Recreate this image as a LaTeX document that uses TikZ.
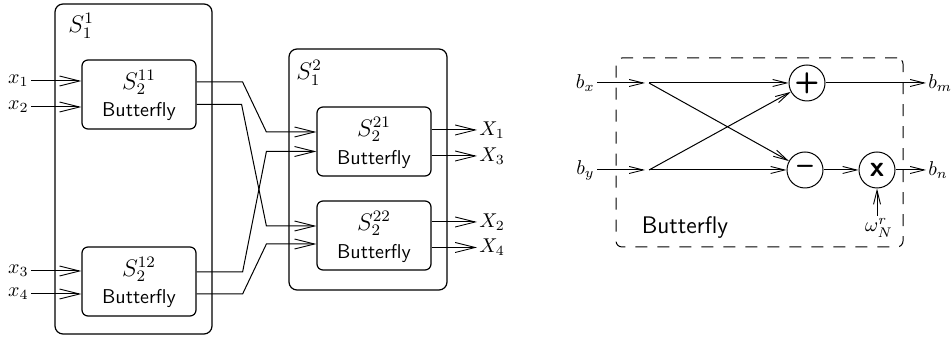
\documentclass[tikz,border=0pt]{standalone}
\usetikzlibrary{arrows.meta,calc}
\begin{document}
\begin{tikzpicture}[x=0.5pt,y=-0.5pt,
  outerbox/.style={draw,line width=0.6pt,rounded corners=4pt,inner sep=0pt},
  bfbox/.style={draw,line width=0.6pt,rounded corners=3pt,minimum width=57pt,minimum height=34.5pt,inner sep=0pt},
  boxtext/.style={inner sep=0pt},
  bigarr/.style={line width=0.5pt,-{Straight Barb[length=10pt,width=5pt,line width=0.45pt]}},
  smallarr/.style={line width=0.5pt,-{Straight Barb[length=7pt,width=3.5pt,line width=0.45pt]}},
  op/.style={draw,circle,line width=0.5pt,minimum size=18pt,inner sep=0pt,font=\Large\sffamily\bfseries},
  dashbox/.style={draw,line width=0.5pt,dash pattern=on 6pt off 5pt,rounded corners=3pt,minimum width=143.5pt,minimum height=94.5pt,inner sep=0pt},
  lbl/.style={inner sep=1pt}
]
\useasboundingbox (0,0) rectangle (952,340);

% ---------- first stage ----------
\node[outerbox,minimum width=78.5pt,minimum height=165pt] (st1) at (133.5,169) {};
\node[lbl,anchor=north west] (st1lbl) at (66,11) {\large$S_1^1$};

\node[bfbox] (b11) at (139,94.5) {};
\node[boxtext] (b11s) at ($(b11)+(0,-12)$) {\large$S_2^{11}$};
\node[boxtext] (b11t) at ($(b11)+(0,17.5)$) {\sffamily Butterfly};

\node[bfbox] (b12) at (139,281.5) {};
\node[boxtext] (b12s) at ($(b12)+(0,-12)$) {\large$S_2^{12}$};
\node[boxtext] (b12t) at ($(b12)+(0,17.5)$) {\sffamily Butterfly};

% ---------- second stage ----------
\node[outerbox,minimum width=79pt,minimum height=120.5pt] (st2) at (368,169.5) {};
\node[lbl,anchor=north west] (st2lbl) at (294,58) {\large$S_1^2$};

\node[bfbox] (b21) at (374,141.5) {};
\node[boxtext] (b21s) at ($(b21)+(0,-12)$) {\large$S_2^{21}$};
\node[boxtext] (b21t) at ($(b21)+(0,18)$) {\sffamily Butterfly};

\node[bfbox] (b22) at (374,235.5) {};
\node[boxtext] (b22s) at ($(b22)+(0,-12)$) {\large$S_2^{22}$};
\node[boxtext] (b22t) at ($(b22)+(0,18)$) {\sffamily Butterfly};

% ---------- inputs ----------
\node[lbl,anchor=east] (x1) at (31,81) {$x_1$};
\node[lbl,anchor=east] (x2) at (31,107) {$x_2$};
\node[lbl,anchor=east] (x3) at (31,271) {$x_3$};
\node[lbl,anchor=east] (x4) at (31,294) {$x_4$};
\draw[bigarr] (x1.east) -- (x1.east -| b11.west);
\draw[bigarr] (x2.east) -- (x2.east -| b11.west);
\draw[bigarr] (x3.east) -- (x3.east -| b12.west);
\draw[bigarr] (x4.east) -- (x4.east -| b12.west);

% ---------- interconnect ----------
\draw[bigarr] ($(b11.east)+(0,-12.5)$) -- ++(46,0)
  -- ($(b21.west)+(-50,-9.5)$) -- ($(b21.west)+(0,-9.5)$);
\draw[bigarr] ($(b11.east)+(0,10)$) -- ++(45,0)
  -- ($(b22.west)+(-50,-9.5)$) -- ($(b22.west)+(0,-9.5)$);
\draw[bigarr] ($(b12.east)+(0,-9.5)$) -- ++(46,0)
  -- ($(b21.west)+(-50,10)$) -- ($(b21.west)+(0,10)$);
\draw[bigarr] ($(b12.east)+(0,12.5)$) -- ++(46,0)
  -- ($(b22.west)+(-50,8.5)$) -- ($(b22.west)+(0,8.5)$);

% ---------- outputs ----------
\node[lbl,anchor=west] (X1) at (477,130) {$X_1$};
\node[lbl,anchor=west] (X3) at (477,156) {$X_3$};
\node[lbl,anchor=west] (X2) at (477,222) {$X_2$};
\node[lbl,anchor=west] (X4) at (477,247.5) {$X_4$};
\draw[bigarr] (X1.west -| b21.east) -- (X1.west);
\draw[bigarr] (X3.west -| b21.east) -- (X3.west);
\draw[bigarr] (X2.west -| b22.east) -- (X2.west);
\draw[bigarr] (X4.west -| b22.east) -- (X4.west);

% ---------- butterfly detail ----------
\node[dashbox] (bfly) at (759.5,152.5) {};
\node (bflylbl) at (685,228) {\large\sffamily Butterfly};

\coordinate (p1) at (649,83);
\coordinate (p2) at (649,170);
\node[lbl,anchor=east] (bx) at (597,83) {$b_x$};
\node[lbl,anchor=east] (by) at (597,170) {$b_y$};
\draw[smallarr,shorten >=2pt] (bx.east) -- (p1);
\draw[smallarr,shorten >=2pt] (by.east) -- (p2);

\node[op] (plus) at (807,83) {+};
\node[op] (minus) at (805,170) {--};
\node[op] (times) at (877,170) {x};

\draw[smallarr] (p1) -- (plus);
\draw[smallarr] (p1) -- (minus);
\draw[smallarr] (p2) -- (plus);
\draw[smallarr] (p2) -- (minus);
\draw[smallarr] (minus) -- (times);

\node[lbl,anchor=west] (bm) at (926,83) {$b_m$};
\node[lbl,anchor=west] (bn) at (926,170) {$b_n$};
\draw[smallarr] (plus) -- (bm);
\draw[smallarr] (times) -- (bn);

\node[lbl,anchor=north] (w) at (879,216) {$\omega_N^r$};
\draw[smallarr] (times.south |- w.north) -- (times.south);
\end{tikzpicture}
\end{document}
